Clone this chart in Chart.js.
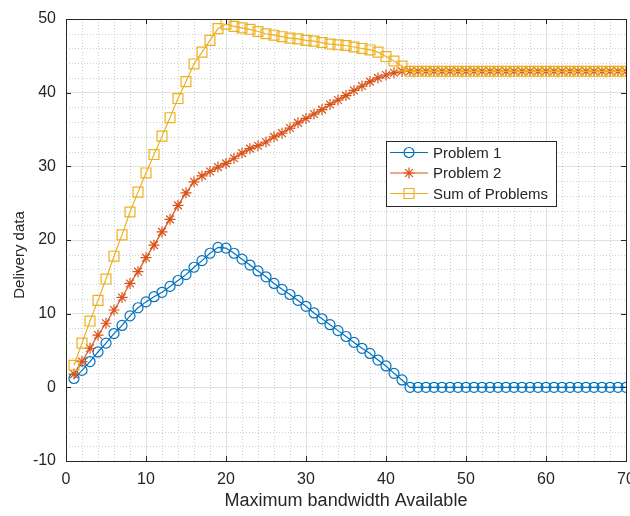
<!doctype html>
<html lang="en">
<head>
    <meta charset="utf-8">
    <title>Delivery data</title>
    <style>
        body { margin: 0; background: #fff; }
    </style>
</head>
<body>
<canvas id="deliveryChart" width="630" height="516"></canvas>
<script src="https://cdn.jsdelivr.net/npm/chart.js@4.4.0/dist/chart.umd.min.js"></script>

<script>
const bandwidth = [1, 2, 3, 4, 5, 6, 7, 8, 9, 10, 11, 12, 13, 14, 15, 16, 17, 18, 19, 20,
    21, 22, 23, 24, 25, 26, 27, 28, 29, 30, 31, 32, 33, 34, 35, 36, 37, 38, 39, 40,
    41, 42, 43, 44, 45, 46, 47, 48, 49, 50, 51, 52, 53, 54, 55, 56, 57, 58, 59, 60,
    61, 62, 63, 64, 65, 66, 67, 68, 69, 70];

const problem1 = [1.2, 2.3, 3.5, 4.8, 6.0, 7.3, 8.4, 9.7, 10.8, 11.6, 12.3, 12.9, 13.7, 14.5, 15.3, 16.3, 17.2, 18.2, 19.0, 18.9,
    18.2, 17.4, 16.6, 15.8, 15.0, 14.1, 13.3, 12.6, 11.8, 11.0, 10.1, 9.3, 8.5, 7.7, 6.9, 6.1, 5.3, 4.6, 3.7, 2.9,
    1.9, 1.0, 0, 0, 0, 0, 0, 0, 0, 0, 0, 0, 0, 0, 0, 0, 0, 0, 0, 0,
    0, 0, 0, 0, 0, 0, 0, 0, 0, 0];

const problem2 = [1.8, 3.5, 5.3, 7.1, 8.7, 10.5, 12.2, 14.1, 15.7, 17.6, 19.3, 21.1, 22.8, 24.7, 26.4, 27.9, 28.7, 29.3, 29.9, 30.4,
    31.1, 31.8, 32.4, 32.8, 33.3, 34.0, 34.5, 35.2, 35.9, 36.5, 37.1, 37.7, 38.4, 39.0, 39.6, 40.3, 40.9, 41.5, 42.0, 42.4,
    42.7, 42.9, 42.9, 42.9, 42.9, 42.9, 42.9, 42.9, 42.9, 42.9, 42.9, 42.9, 42.9, 42.9, 42.9, 42.9, 42.9, 42.9, 42.9, 42.9,
    42.9, 42.9, 42.9, 42.9, 42.9, 42.9, 42.9, 42.9, 42.9, 42.9];

const sumOfProblems = [3.0, 6.0, 9.0, 11.8, 14.7, 17.8, 20.7, 23.8, 26.5, 29.1, 31.6, 34.1, 36.6, 39.2, 41.5, 43.9, 45.5, 47.1, 48.7, 49.3,
    49.0, 48.8, 48.6, 48.3, 48.0, 47.8, 47.6, 47.4, 47.3, 47.1, 47.0, 46.8, 46.6, 46.5, 46.4, 46.2, 46.0, 45.8, 45.5, 44.9,
    44.3, 43.6, 42.9, 42.9, 42.9, 42.9, 42.9, 42.9, 42.9, 42.9, 42.9, 42.9, 42.9, 42.9, 42.9, 42.9, 42.9, 42.9, 42.9, 42.9,
    42.9, 42.9, 42.9, 42.9, 42.9, 42.9, 42.9, 42.9, 42.9, 42.9];

const seriesNames = ['Problem 1', 'Problem 2', 'Sum of Problems'];
const xTicks = [0, 10, 20, 30, 40, 50, 60, 70];
const yTicks = [-10, 0, 10, 20, 30, 40, 50];
const xTitle = 'Maximum bandwidth Available';
const yTitle = 'Delivery data';

const BLUE = '#0072BD';
const RED = '#D95319';
const YELLOW = '#EDB120';
const TEXT = '#262626';
const FONT = "'Liberation Sans', Arial, Helvetica, sans-serif";

function points(ys) {
    return bandwidth.map((x, i) => ({x: x, y: ys[i]}));
}

function drawMarker(ctx, style, x, y, color) {
    ctx.save();
    ctx.strokeStyle = color;
    ctx.lineWidth = 1.2;
    ctx.beginPath();
    if (style === 'circle') {
        ctx.arc(x, y, 5, 0, Math.PI * 2);
    } else if (style === 'rect') {
        ctx.rect(x - 5, y - 5, 10, 10);
    } else {
        for (let k = 0; k < 4; k++) {
            const a = k * Math.PI / 4;
            ctx.moveTo(x - Math.cos(a) * 5.5, y - Math.sin(a) * 5.5);
            ctx.lineTo(x + Math.cos(a) * 5.5, y + Math.sin(a) * 5.5);
        }
    }
    ctx.stroke();
    ctx.restore();
}

// matlab look: dotted minor grid, box with inward ticks, legend inside the axes
const matlabAxes = {
    id: 'matlabAxes',
    beforeDatasetsDraw(chart) {
        const {ctx, chartArea: a, scales: {x, y}} = chart;
        ctx.save();
        ctx.strokeStyle = 'rgba(0,0,0,0.18)';
        ctx.lineWidth = 1;
        ctx.setLineDash([1, 2]);
        ctx.beginPath();
        for (let v = x.min + 2; v < x.max; v += 2) {
            if (v % 10 === 0) continue;
            const px = Math.round(x.getPixelForValue(v)) + 0.5;
            ctx.moveTo(px, a.top);
            ctx.lineTo(px, a.bottom);
        }
        for (let v = y.min + 2; v < y.max; v += 2) {
            if (v % 10 === 0) continue;
            const py = Math.round(y.getPixelForValue(v)) + 0.5;
            ctx.moveTo(a.left, py);
            ctx.lineTo(a.right, py);
        }
        ctx.stroke();
        ctx.restore();
    },
    afterDatasetsDraw(chart) {
        const {ctx, chartArea: a, scales: {x, y}} = chart;
        ctx.save();
        ctx.strokeStyle = TEXT;
        ctx.lineWidth = 1;
        ctx.beginPath();
        for (const v of xTicks) {
            const px = Math.round(x.getPixelForValue(v)) + 0.5;
            ctx.moveTo(px, a.bottom);
            ctx.lineTo(px, a.bottom - 5);
            ctx.moveTo(px, a.top);
            ctx.lineTo(px, a.top + 5);
        }
        for (const v of yTicks) {
            const py = Math.round(y.getPixelForValue(v)) + 0.5;
            ctx.moveTo(a.left, py);
            ctx.lineTo(a.left + 5, py);
            ctx.moveTo(a.right, py);
            ctx.lineTo(a.right - 5, py);
        }
        ctx.stroke();
        ctx.strokeRect(Math.round(a.left) + 0.5, Math.round(a.top) + 0.5,
            Math.round(a.right - a.left), Math.round(a.bottom - a.top));

        // y axis title, sitting a little below the middle as in the original
        ctx.translate(20, 255);
        ctx.rotate(-Math.PI / 2);
        ctx.fillStyle = TEXT;
        ctx.font = '15px ' + FONT;
        ctx.textAlign = 'center';
        ctx.textBaseline = 'middle';
        ctx.fillText(yTitle, 0, 0);
        ctx.restore();

        // legend
        const lx = 386, ly = 141, lw = 170, lh = 65;
        ctx.save();
        ctx.fillStyle = '#fff';
        ctx.fillRect(lx, ly, lw, lh);
        ctx.strokeStyle = TEXT;
        ctx.lineWidth = 1;
        ctx.strokeRect(lx + 0.5, ly + 0.5, lw, lh);
        const colors = [BLUE, RED, YELLOW];
        const styles = ['circle', 'star', 'rect'];
        ctx.font = '15px ' + FONT;
        ctx.textBaseline = 'middle';
        seriesNames.forEach((name, i) => {
            const ry = ly + 11.5 + i * 20.5;
            ctx.strokeStyle = colors[i];
            ctx.lineWidth = 1.2;
            ctx.beginPath();
            ctx.moveTo(lx + 4, ry);
            ctx.lineTo(lx + 42, ry);
            ctx.stroke();
            drawMarker(ctx, styles[i], lx + 23, ry, colors[i]);
            ctx.fillStyle = TEXT;
            ctx.fillText(name, lx + 47, ry + 1);
        });
        ctx.restore();
    }
};

const ctx = document.getElementById('deliveryChart').getContext('2d');
const chart = new Chart(ctx, {
    type: 'line',
    data: {
        datasets: [{
            label: seriesNames[0],
            data: points(problem1),
            borderColor: BLUE,
            borderWidth: 1.2,
            pointStyle: 'circle',
            pointRadius: 5,
            pointBorderWidth: 1.2,
            pointBorderColor: BLUE,
            pointBackgroundColor: 'rgba(0,0,0,0)',
            order: 3
        }, {
            label: seriesNames[1],
            data: points(problem2),
            borderColor: RED,
            borderWidth: 1.2,
            pointStyle: 'star',
            pointRadius: 5.5,
            pointBorderWidth: 1.2,
            pointBorderColor: RED,
            pointBackgroundColor: 'rgba(0,0,0,0)',
            order: 2
        }, {
            label: seriesNames[2],
            data: points(sumOfProblems),
            borderColor: YELLOW,
            borderWidth: 1.2,
            pointStyle: 'rect',
            pointRadius: 7,
            pointBorderWidth: 1.2,
            pointBorderColor: YELLOW,
            pointBackgroundColor: 'rgba(0,0,0,0)',
            order: 1
        }]
    },
    options: {
        responsive: false,
        animation: false,
        layout: {
            autoPadding: false,
            padding: {left: 7, right: 4, top: 19, bottom: 4}
        },
        plugins: {
            legend: {display: false},
            tooltip: {enabled: false}
        },
        scales: {
            x: {
                type: 'linear',
                min: 0,
                max: 70,
                afterBuildTicks: (axis) => { axis.ticks = xTicks.map(v => ({value: v})); },
                afterFit: (axis) => { axis.height = 51; axis.paddingLeft = 0; axis.paddingRight = 0; },
                ticks: {color: TEXT, font: {family: FONT, size: 16}, padding: 9, maxRotation: 0},
                grid: {color: '#e1e1e1', drawTicks: false},
                border: {display: false},
                title: {display: true, text: xTitle, color: TEXT,
                    font: {family: FONT, size: 18}, padding: {top: 0, bottom: 0}}
            },
            y: {
                type: 'linear',
                min: -10,
                max: 50,
                afterBuildTicks: (axis) => { axis.ticks = yTicks.map(v => ({value: v})); },
                afterFit: (axis) => { axis.width = 59; axis.paddingTop = 0; axis.paddingBottom = 0; },
                ticks: {color: TEXT, font: {family: FONT, size: 16}, padding: 10},
                grid: {color: '#e1e1e1', drawTicks: false},
                border: {display: false}
            }
        }
    },
    plugins: [matlabAxes]
});
</script>
</body>
</html>
